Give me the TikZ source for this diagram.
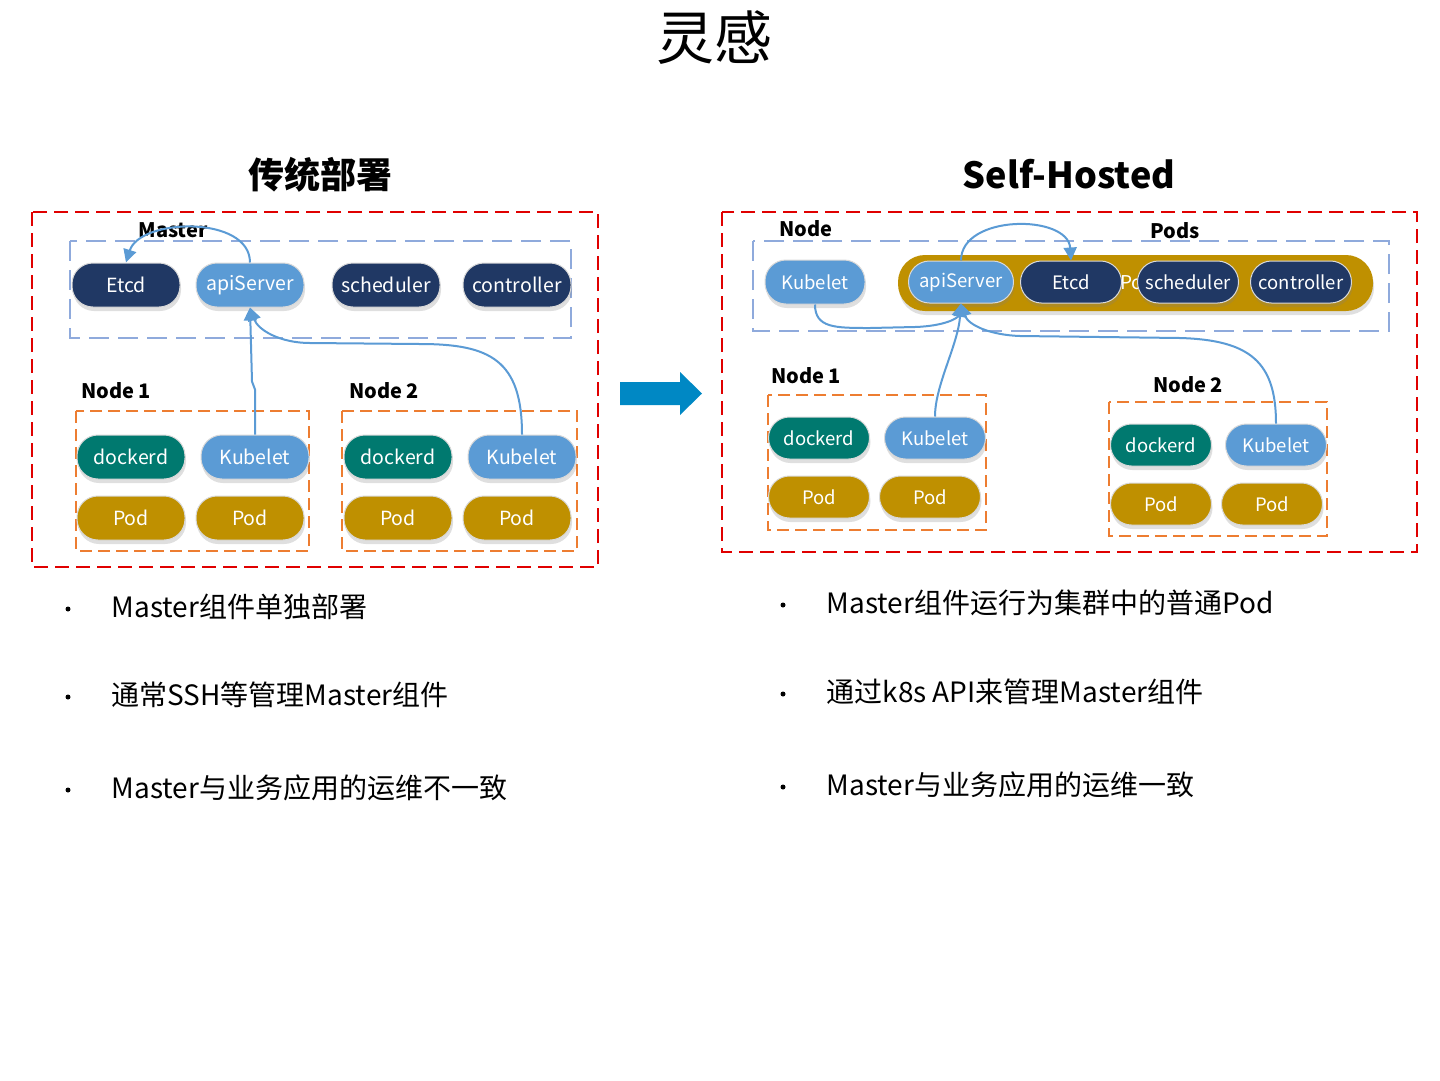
\documentclass[tikz,border=0pt]{standalone}
\usepackage{fontspec}
\setmainfont{Noto Sans CJK SC}
\usetikzlibrary{arrows.meta,shadows}
\definecolor{navy}{HTML}{203864}
\definecolor{lblue}{HTML}{5B9BD5}
\definecolor{teal}{HTML}{00796F}
\definecolor{gold}{HTML}{BF9000}
\definecolor{redd}{HTML}{E00000}
\definecolor{boxblue}{HTML}{8FAADC}
\definecolor{orng}{HTML}{ED7D31}
\definecolor{bigarrow}{HTML}{0088C4}
\tikzset{
  pill/.style={rectangle, rounded corners=21pt, minimum width=108pt, minimum height=44pt, inner sep=0pt,
    text=white, font=\fontsize{19.5}{22}\selectfont, draw=white!85!black, line width=1pt,
    drop shadow={shadow xshift=1pt, shadow yshift=-4pt, opacity=0.25, fill=black!50}},
  spill/.style={pill, minimum width=101pt, minimum height=42pt, font=\fontsize{18.5}{21}\selectfont},
  navyp/.style={fill=navy},
  bluep/.style={fill=lblue},
  tealp/.style={fill=teal},
  goldp/.style={fill=gold},
  redbox/.style={draw=redd, line width=2.4pt, dash pattern=on 14pt off 7pt},
  bluebox/.style={draw=boxblue, line width=1.6pt, dash pattern=on 20pt off 9pt},
  orbox/.style={draw=orng, line width=2pt, dash pattern=on 12pt off 6pt},
  lbl/.style={font=\bfseries\fontsize{20}{22}\selectfont},
  head/.style={font=\bfseries\fontsize{36}{40}\selectfont},
  bullettext/.style={anchor=west, font=\fontsize{28}{30}\selectfont},
  bdot/.style={circle, fill=black, inner sep=0pt, minimum size=5pt},
  conn/.style={draw=lblue, line width=2pt, -{Triangle[length=13pt,width=13pt]}},
}
\begin{document}
\begin{tikzpicture}[x=1pt,y=-1pt]
\useasboundingbox (0,0) rectangle (1440,1080);
\fill[white] (0,0) rectangle (1440,1080);

% title and headers
\node (title) at (714,38) {\fontsize{58}{62}\selectfont 灵感};
\node[head] (hleft) at (320,175) {传统部署};
\node[head] (hright) at (1069,174) {Self-Hosted};

% ===== left diagram =====
\draw[redbox] (32,212) rectangle (598,567);
\draw[bluebox] (70,241) rectangle (571,338);
\node[lbl] (lmaster) at (173,230) {Master};
\node[pill,navyp] (letcd) at (126,285) {Etcd};
\node[pill,bluep] (lapi) at (250,285) {apiServer};
\node[pill,navyp] (lsch) at (386,285) {scheduler};
\node[pill,navyp] (lctl) at (517,285) {controller};

\node[lbl] (ln1) at (116,391) {Node 1};
\draw[orbox] (76,411) rectangle (309,551);
\node[pill,tealp] (ld1) at (131,457) {dockerd};
\node[pill,bluep] (lk1) at (255,457) {Kubelet};
\node[pill,goldp] (lp11) at (131,518) {Pod};
\node[pill,goldp] (lp12) at (250,518) {Pod};

\node[lbl] (ln2) at (384,391) {Node 2};
\draw[orbox] (342,411) rectangle (577,551);
\node[pill,tealp] (ld2) at (398,457) {dockerd};
\node[pill,bluep] (lk2) at (522,457) {Kubelet};
\node[pill,goldp] (lp21) at (398,518) {Pod};
\node[pill,goldp] (lp22) at (517,518) {Pod};

\draw[conn] (lapi.north) .. controls (250,215) and (140,218) .. (letcd.north);
\draw[conn] (lk1.north) -- ++(0,-45) -- ++(-3,-8) -- (lapi.south);
\draw[conn] (lk2.north) .. controls (522,360) and (490,344) .. (420,344) -- (310,343) .. controls (280,343) and (258,330) .. (lapi.south);

% big arrow
\fill[bigarrow] (620,382) -- (680,382) -- (680,372) -- (702,393.5) -- (680,415) -- (680,405) -- (620,405) -- cycle;

% ===== right diagram =====
\draw[redbox] (722,212) rectangle (1417,552);
\draw[bluebox] (753,241) rectangle (1389,331);
\node[lbl] (rnode) at (806,229) {Node};
\node[lbl] (rpods) at (1175,231) {Pods};
\node[pill,bluep,minimum width=100pt,font=\fontsize{18.5}{21}\selectfont] (rkub) at (815,282) {Kubelet};
\node[rectangle, rounded corners=27pt, minimum width=475pt, minimum height=56pt, fill=gold,
      drop shadow={shadow xshift=1pt, shadow yshift=-4pt, opacity=0.25, fill=black!50}] (rgold) at (1135.5,283) {};
\node[text=white, font=\fontsize{19}{21}\selectfont] (rgoldtxt) at (1142,282) {Pods};
\node[spill,bluep,minimum width=105pt] (rapi) at (961,282) {apiServer};
\node[spill,navyp] (retcd) at (1071,282) {Etcd};
\node[spill,navyp] (rsch) at (1188,282) {scheduler};
\node[spill,navyp] (rctl) at (1301,282) {controller};

\node[lbl] (rn1) at (806,376) {Node 1};
\draw[orbox] (768,395) rectangle (986,530);
\node[spill,tealp] (rd1) at (819,438) {dockerd};
\node[spill,bluep] (rk1) at (935,438) {Kubelet};
\node[spill,goldp] (rp11) at (819,497) {Pod};
\node[spill,goldp] (rp12) at (930,497) {Pod};

\node[lbl] (rn2) at (1188,385) {Node 2};
\draw[orbox] (1109,402) rectangle (1327,536);
\node[spill,tealp] (rd2) at (1161,445) {dockerd};
\node[spill,bluep] (rk2) at (1276,445) {Kubelet};
\node[spill,goldp] (rp21) at (1161,504) {Pod};
\node[spill,goldp] (rp22) at (1272,504) {Pod};

\draw[conn] (rapi.north) .. controls (961,214) and (1068,214) .. (retcd.north);
\draw[conn] (rkub.south) .. controls (815,328) and (835,328) .. (870,328) -- (915,327) .. controls (945,326) and (958,318) .. (rapi.south);
\draw[conn] (rk1.north) .. controls (935,385) and (958,345) .. (rapi.south);
\draw[conn] (rk2.north) .. controls (1276,362) and (1250,340) .. (1180,338) -- (1020,336) .. controls (990,335) and (968,325) .. (rapi.south);

% ===== bullets =====
\node[bdot] (bl1) at (68,609) {};
\node[bullettext] (tl1) at (108,607) {Master组件单独部署};
\node[bdot] (bl2) at (68,697) {};
\node[bullettext] (tl2) at (108,695) {通常SSH等管理Master组件};
\node[bdot] (bl3) at (68,790) {};
\node[bullettext] (tl3) at (108,788) {Master与业务应用的运维不一致};

\node[bdot] (br1) at (783,605) {};
\node[bullettext] (tr1) at (823,603) {Master组件运行为集群中的普通Pod};
\node[bdot] (br2) at (783,694) {};
\node[bullettext] (tr2) at (823,692) {通过k8s API来管理Master组件};
\node[bdot] (br3) at (783,787) {};
\node[bullettext] (tr3) at (823,785) {Master与业务应用的运维一致};
\end{tikzpicture}
\end{document}
